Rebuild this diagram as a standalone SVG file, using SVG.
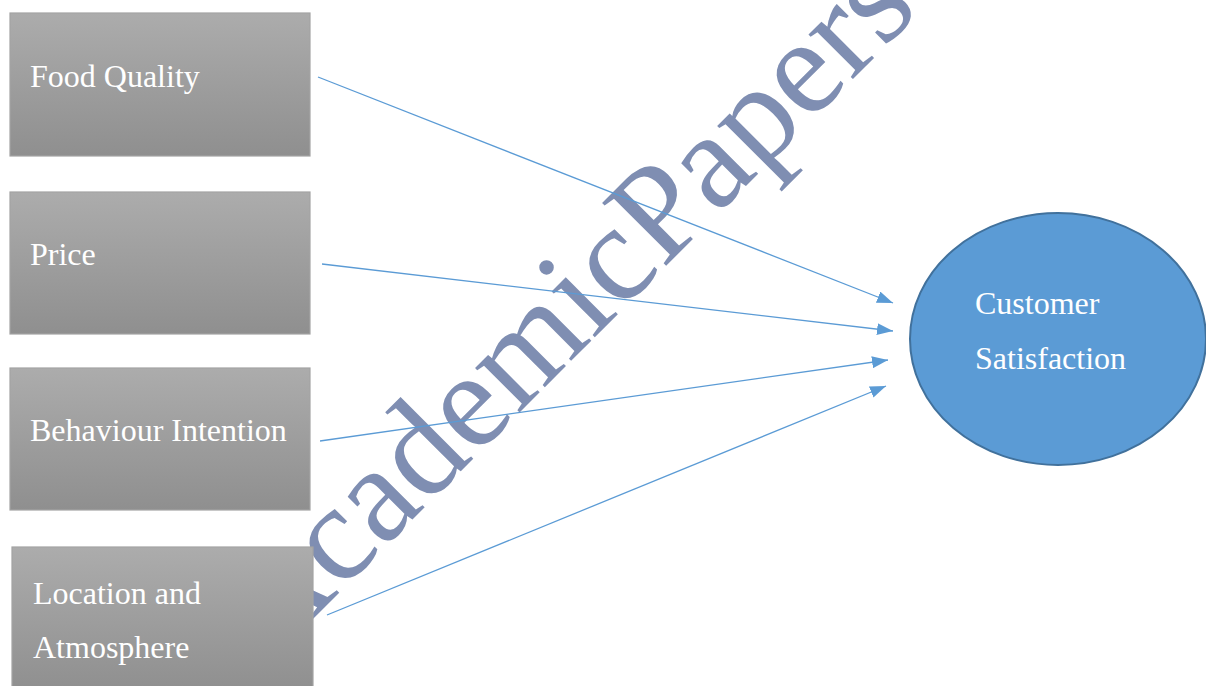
<svg xmlns="http://www.w3.org/2000/svg" width="1206" height="686" viewBox="0 0 1206 686">
  <defs>
    <linearGradient id="boxFill" x1="0" y1="0" x2="0" y2="1">
      <stop offset="0" stop-color="#acacac"/>
      <stop offset="1" stop-color="#8f8f8f"/>
    </linearGradient>
    <marker id="arrowHead" viewBox="0 0 16 12" refX="16" refY="6" markerWidth="16" markerHeight="12" markerUnits="userSpaceOnUse" orient="auto">
      <path d="M0,0 L16,6 L0,12 Z" fill="#5b9bd5"/>
    </marker>
    <style>
      .box { fill: url(#boxFill); stroke: #a3a3a3; stroke-width: 1.2; }
      .label { font-size: 32px; fill: #ffffff; }
      .link { stroke: #5b9bd5; stroke-width: 1.3; fill: none; marker-end: url(#arrowHead); }
      .mark { font-size: 137px; fill: #7f8eb2; }
    </style>
  </defs>

  <rect width="1206" height="686" fill="#ffffff"/>

  <!-- background watermark -->
  <text class="mark" font-family="Liberation Serif, DejaVu Serif, serif" transform="translate(270,662) rotate(-45)">AcademicPapers</text>

  <!-- connectors -->
  <g id="connectors">
    <line class="link" x1="318" y1="77" x2="893" y2="303"/>
    <line class="link" x1="322" y1="264" x2="893" y2="331"/>
    <line class="link" x1="320" y1="441" x2="888" y2="360"/>
    <line class="link" x1="327" y1="615" x2="886" y2="386"/>
  </g>

  <g id="food-quality" font-family="Liberation Serif, DejaVu Serif, serif">
    <rect class="box" x="10" y="13" width="300" height="143"/>
    <text class="label" x="30" y="87">Food Quality</text>
  </g>

  <g id="price" font-family="Liberation Serif, DejaVu Serif, serif">
    <rect class="box" x="10" y="192" width="300" height="142"/>
    <text class="label" x="30" y="265">Price</text>
  </g>

  <g id="behaviour-intention" font-family="Liberation Serif, DejaVu Serif, serif">
    <rect class="box" x="10" y="368" width="300" height="142"/>
    <text class="label" x="30" y="441">Behaviour Intention</text>
  </g>

  <g id="location-atmosphere" font-family="Liberation Serif, DejaVu Serif, serif">
    <rect class="box" x="12" y="547" width="301" height="145"/>
    <text class="label" x="33" y="604">Location and</text>
    <text class="label" x="33" y="658">Atmosphere</text>
  </g>

  <g id="customer-satisfaction" font-family="Liberation Serif, DejaVu Serif, serif">
    <ellipse cx="1058" cy="339" rx="148" ry="126" fill="#5b9bd5" stroke="#41719c" stroke-width="2"/>
    <text class="label" x="975" y="314">Customer</text>
    <text class="label" x="975" y="369">Satisfaction</text>
  </g>
</svg>
